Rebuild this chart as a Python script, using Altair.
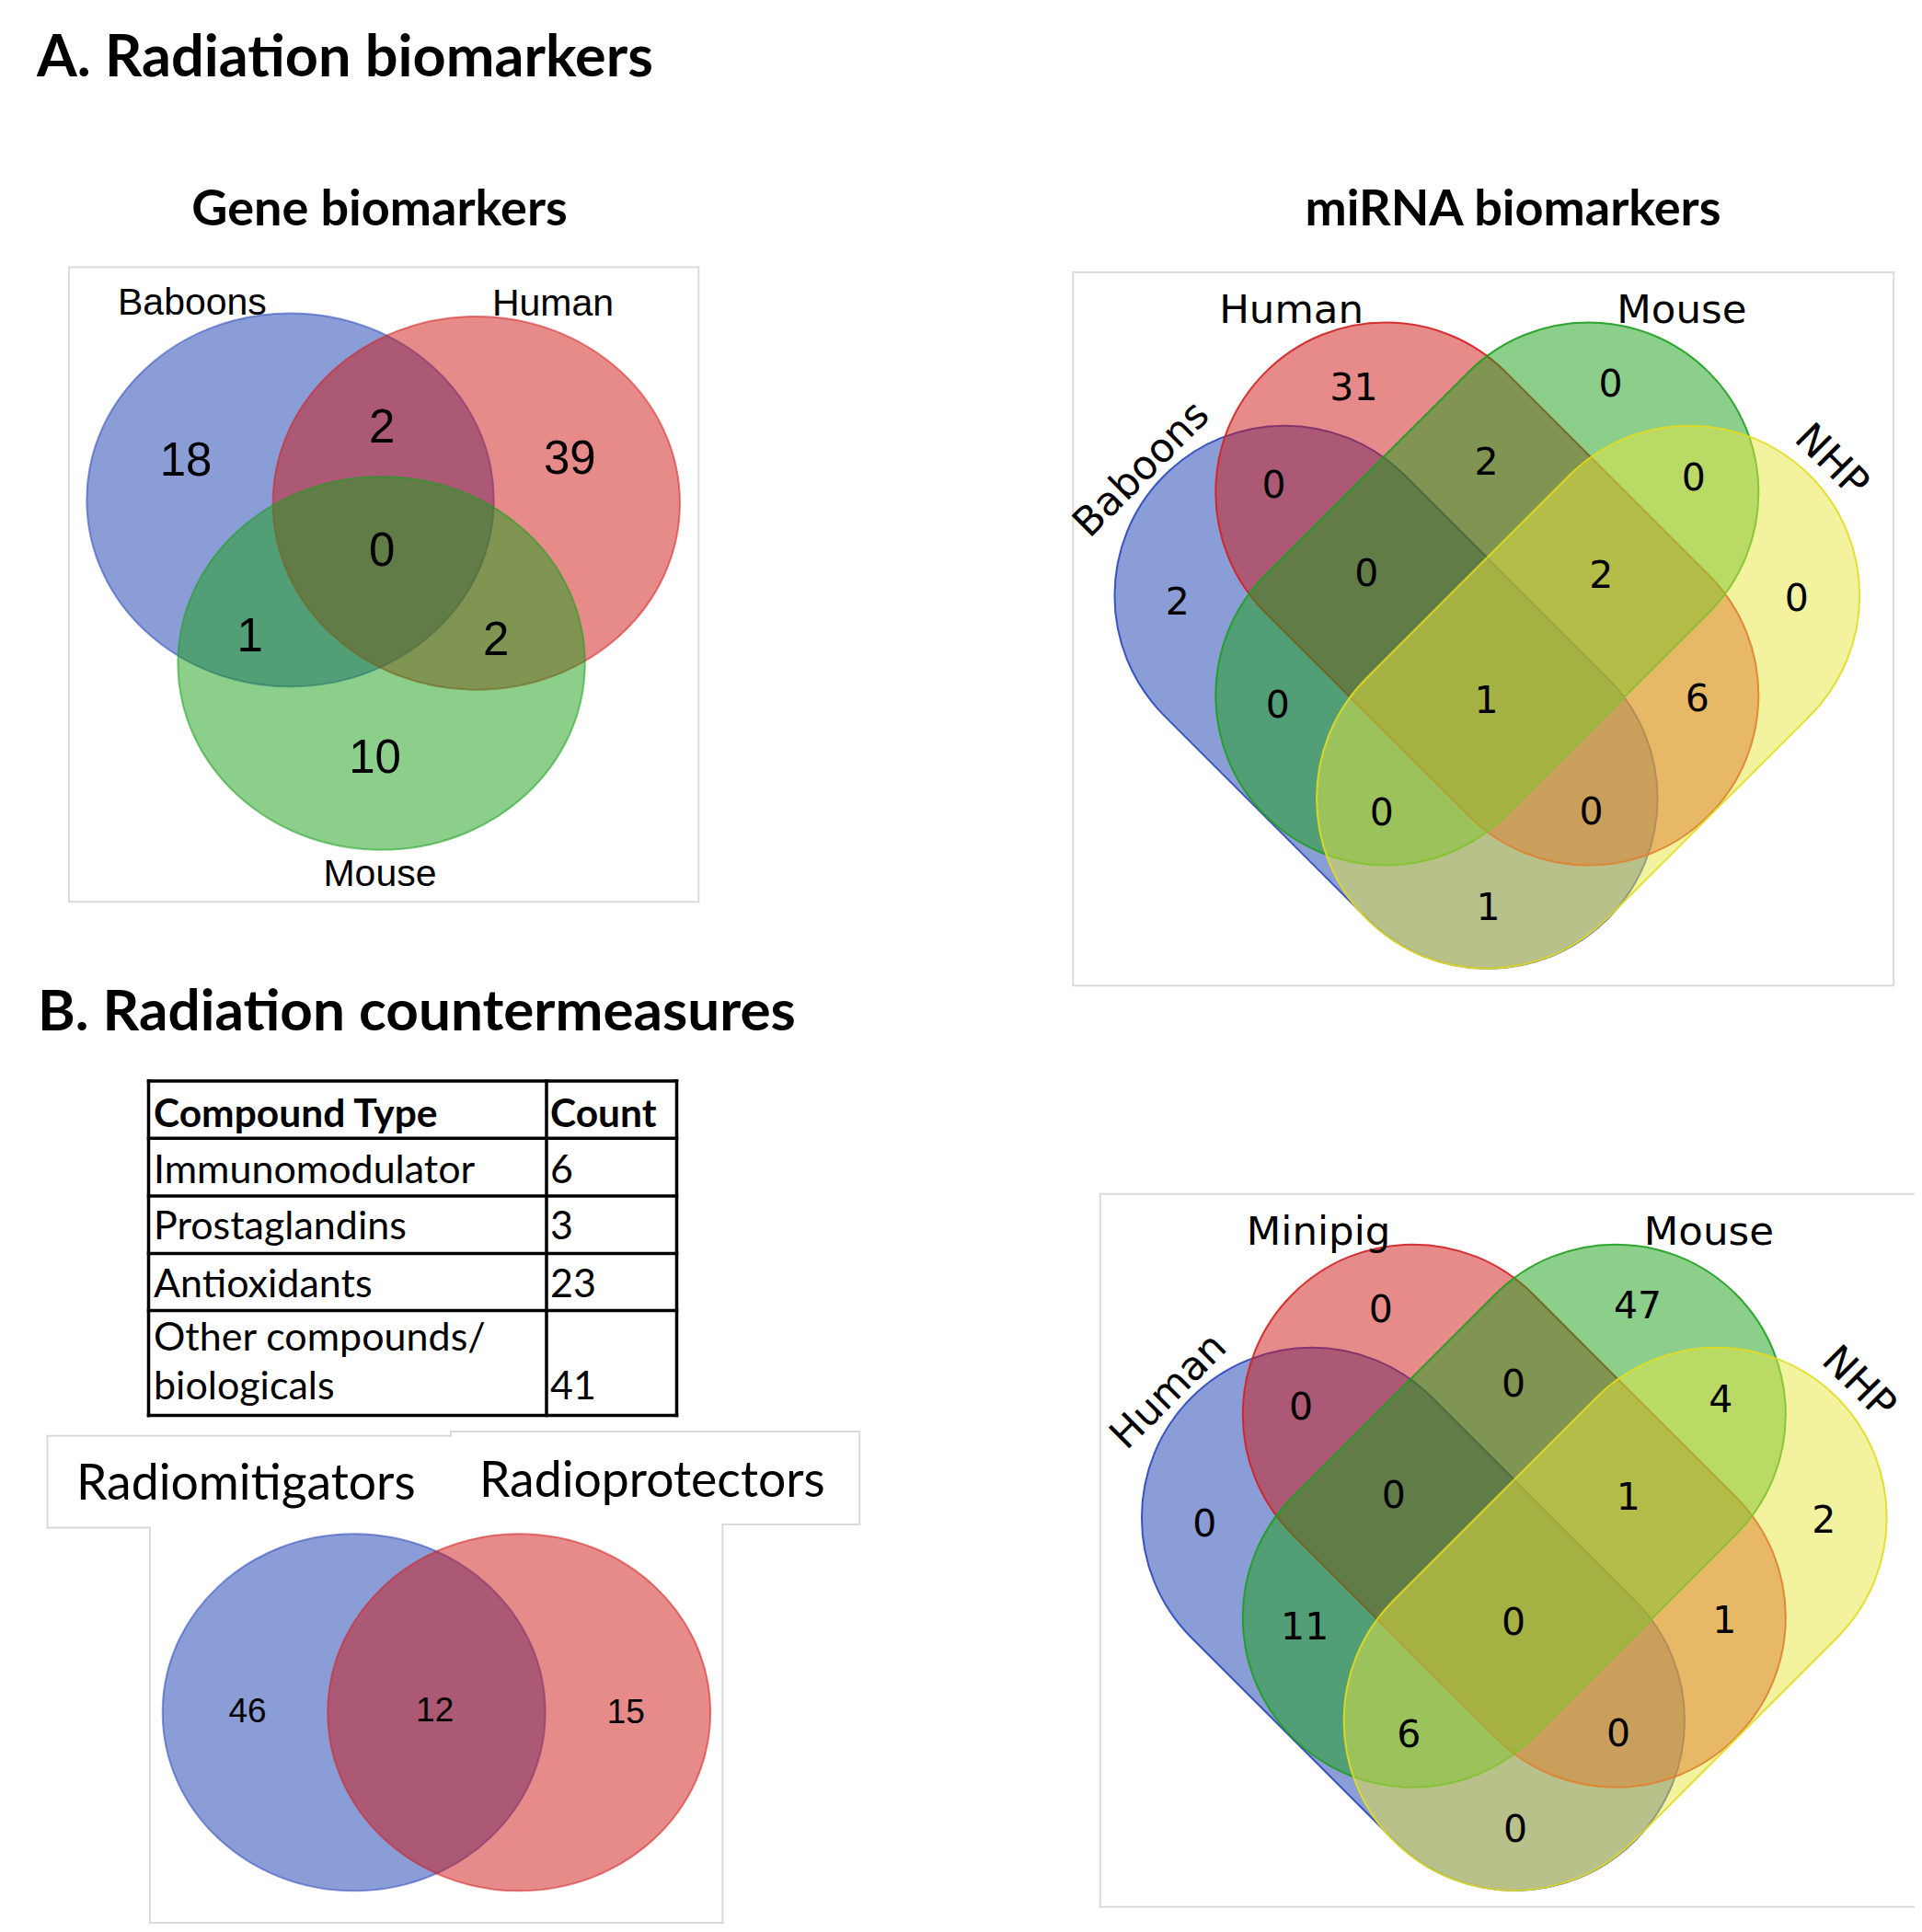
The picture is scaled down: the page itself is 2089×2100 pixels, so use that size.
import altair as alt
import pandas as pd

# ================= values =================
TITLE_A = "A. Radiation biomarkers"
TITLE_B = "B. Radiation countermeasures"
PANEL_TITLES = ["Gene biomarkers", "miRNA biomarkers"]

GENE_SETS = ["Baboons", "Human", "Mouse"]                 # slots A, B, C
GENE_REGIONS = ["A", "B", "C", "AB", "AC", "BC", "ABC"]
GENE_COUNTS = [18, 39, 10, 2, 1, 2, 0]

QUAD_REGIONS = ["B", "C", "AB", "BC", "CD", "A", "ABC", "BCD", "D",
                "AC", "ABCD", "BD", "ACD", "ABD", "AD"]
MIRNA_SETS = ["Baboons", "Human", "Mouse", "NHP"]          # slots A, B, C, D
MIRNA_COUNTS = [31, 0, 0, 2, 0, 2, 0, 2, 0, 0, 1, 6, 0, 0, 1]
CM_SETS = ["Human", "Minipig", "Mouse", "NHP"]             # slots A, B, C, D
CM_COUNTS = [0, 47, 0, 0, 4, 0, 0, 1, 2, 11, 0, 1, 6, 0, 0]

TABLE_HEADER = ["Compound Type", "Count"]
COMPOUND_TYPES = ["Immunomodulator", "Prostaglandins", "Antioxidants",
                  "Other compounds/\nbiologicals"]
COMPOUND_COUNTS = [6, 3, 23, 41]

PAIR_SETS = ["Radiomitigators", "Radioprotectors"]         # slots A, B
PAIR_REGIONS = ["A", "AB", "B"]
PAIR_COUNTS = [46, 12, 15]

# ================= layout (page pixels) =================
PAGE_W, PAGE_H, M = 2089, 2100, 8
W, H = PAGE_W - 2 * M, PAGE_H - 2 * M

SLOT_FILL = {"A": "#173BAD", "B": "#CD1515", "C": "#179F17", "D": "#E8E640"}
SLOT_STROKE = {"A": "#2A47BE", "B": "#D42020", "C": "#1E9E1E", "D": "#E2DC20"}
FRAME_COLOR = "#DADADA"

GENE_CENTERS = {"A": (315.5, 543.4), "B": (517.8, 546.8), "C": (414.6, 720.8)}
GENE_RADII = (221.2, 202.9)
GENE_LABEL_XY = {"A": (208.9, 327.3), "B": (601.0, 328.6), "C": (413.0, 948.1)}
GENE_REGION_XY = {"A": (202.1, 499.1), "B": (619.3, 496.8), "C": (407.5, 822.2),
                  "AB": (415.3, 462.4), "AC": (271.7, 689.4), "BC": (539.1, 693.8),
                  "ABC": (415.3, 596.3)}
GENE_FRAME = (75.0, 290.6, 759.3, 980.2)

QUAD_CENTERS = [(1616.3, 645.5), (1645.8, 1647.7)]
QUAD_SHAPES = {"A": (-109.8, 112.2, 45), "B": (0.0, 0.0, 45),
               "C": (0.0, 0.0, 135), "D": (109.8, 112.2, 135)}
CAPSULE_R, CAPSULE_D = 184.8, 155.9
QUAD_LABEL_XY = {"A": (-375.2, -137.8, 315), "B": (-212.7, -310.0, 0),
                 "C": (211.6, -310.7, 0), "D": (374.1, -146.9, 45)}
QUAD_REGION_XY = {"B": (-144.9, -225.0), "C": (134.3, -229.0), "AB": (-231.7, -119.3),
                  "BC": (-0.7, -144.2), "CD": (224.4, -127.1), "A": (-336.5, 8.0),
                  "ABC": (-131.0, -23.6), "BCD": (123.9, -21.6), "D": (336.5, 3.9),
                  "AC": (-227.6, 120.1), "ABCD": (-0.7, 114.4), "BD": (228.6, 112.5),
                  "ACD": (-114.4, 237.0), "ABD": (113.2, 235.8), "AD": (1.3, 339.9)}
QUAD_FRAMES = [(1166.3, 295.9, 2058.2, 1071.3), (1195.8, 1297.7, 2090.0, 2072.8)]

PAIR_CENTERS = {"A": (384.7, 1861.3), "B": (564.2, 1861.3)}
PAIR_RADII = (208.0, 194.0)
PAIR_REGION_XY = {"A": (269.0, 1858.9), "AB": (472.7, 1857.9), "B": (680.3, 1859.6)}
PAIR_LABEL_XY = {"A": (83.0, 1630.0), "B": (521.0, 1627.0)}
PAIR_BOX_SEGMENTS = [
    (51.6, 1560.7, 490.0, 1560.7), (51.6, 1560.7, 51.6, 1660.6), (51.6, 1660.6, 163.0, 1660.6),
    (163.0, 1660.6, 163.0, 2090.0), (785.4, 1657.1, 785.4, 2090.0), (163.0, 2090.0, 785.4, 2090.0),
    (490.0, 1556.0, 934.2, 1556.0), (490.0, 1556.0, 490.0, 1560.7),
    (934.2, 1556.0, 934.2, 1657.1), (785.4, 1657.1, 934.2, 1657.1),
]

TABLE_COLS = (161.5, 594.0, 735.5)
TABLE_ROWS = [1175.0, 1237.3, 1300.0, 1362.4, 1424.4, 1538.4]
TABLE_TEXT_X = (167.0, 598.0)
TABLE_HEADER_BASE = 1224.6
TABLE_ROW_BASE = [1285.9, 1347.0, 1410.2, 1467.6]
TABLE_LINE_GAP = 53.6

TITLE_POS = {"A": (40.0, 83.0, 63), "B": (41.0, 1120.0, 62)}
PANEL_TITLE_POS = [(412.5, 245.0), (1644.4, 245.0)]

XS = alt.Scale(domain=[M, PAGE_W - M], range=[0, W], nice=False, zero=False)
YS = alt.Scale(domain=[M, PAGE_H - M], range=[0, H], nice=False, zero=False)

K = 0.5523


def f(v):
    return f"{v:.4f}"


def ellipse_path(k):
    return (f"M1,0 C1,{f(k*K)} {f(K)},{f(k)} 0,{f(k)} "
            f"C{f(-K)},{f(k)} -1,{f(k*K)} -1,0 "
            f"C-1,{f(-k*K)} {f(-K)},{f(-k)} 0,{f(-k)} "
            f"C{f(K)},{f(-k)} 1,{f(-k*K)} 1,0 Z")


def capsule_path(a, b):
    kb = K * b
    return (f"M{f(-a)},{f(-b)} L{f(a)},{f(-b)} "
            f"C{f(a+kb)},{f(-b)} {f(a+b)},{f(-kb)} {f(a+b)},0 "
            f"C{f(a+b)},{f(kb)} {f(a+kb)},{f(b)} {f(a)},{f(b)} "
            f"L{f(-a)},{f(b)} "
            f"C{f(-a-kb)},{f(b)} {f(-a-b)},{f(kb)} {f(-a-b)},0 "
            f"C{f(-a-b)},{f(-kb)} {f(-a-kb)},{f(-b)} {f(-a)},{f(-b)} Z")


# ---------- shapes ----------
shape_rows = []
z = 0
rx, ry = GENE_RADII
for slot in ["A", "B", "C"]:
    cx, cy = GENE_CENTERS[slot]
    shape_rows.append(dict(x=cx, y=cy, path=ellipse_path(ry / rx), size=(2 * rx) ** 2, angle=0,
                           fill=SLOT_FILL[slot], stroke=SLOT_STROKE[slot], sop=0.55, z=z))
    z += 1
L = CAPSULE_R + CAPSULE_D
cap = capsule_path(CAPSULE_D / L, CAPSULE_R / L)
for (qx, qy) in QUAD_CENTERS:
    for slot in ["A", "B", "C", "D"]:
        dx, dy, ang = QUAD_SHAPES[slot]
        shape_rows.append(dict(x=qx + dx, y=qy + dy, path=cap, size=(2 * L) ** 2, angle=ang,
                               fill=SLOT_FILL[slot], stroke=SLOT_STROKE[slot], sop=0.9, z=z))
        z += 1
rx, ry = PAIR_RADII
for slot in ["A", "B"]:
    cx, cy = PAIR_CENTERS[slot]
    shape_rows.append(dict(x=cx, y=cy, path=ellipse_path(ry / rx), size=(2 * rx) ** 2, angle=0,
                           fill=SLOT_FILL[slot], stroke=SLOT_STROKE[slot], sop=0.55, z=z))
    z += 1
shapes_df = pd.DataFrame(shape_rows)

# ---------- rules (frames, boxes, table grid) ----------
rule_rows = []


def box(x0, y0, x1, y1, color, w):
    for seg in [(x0, y0, x1, y0), (x0, y1, x1, y1), (x0, y0, x0, y1), (x1, y0, x1, y1)]:
        rule_rows.append(dict(x=seg[0], y=seg[1], x2=seg[2], y2=seg[3], color=color, w=w))


box(*GENE_FRAME, FRAME_COLOR, 2)
for fr in QUAD_FRAMES:
    box(*fr, FRAME_COLOR, 2)
for seg in PAIR_BOX_SEGMENTS:
    rule_rows.append(dict(x=seg[0], y=seg[1], x2=seg[2], y2=seg[3], color=FRAME_COLOR, w=2))
frames_df = pd.DataFrame(rule_rows)

grid_rows = []
for yy in TABLE_ROWS:
    grid_rows.append(dict(x=TABLE_COLS[0], y=yy, x2=TABLE_COLS[2], y2=yy, color="black", w=3.5))
for xx in TABLE_COLS:
    grid_rows.append(dict(x=xx, y=TABLE_ROWS[0], x2=xx, y2=TABLE_ROWS[-1], color="black", w=3.5))
grid_df = pd.DataFrame(grid_rows)

# ---------- texts ----------
bold_left, bold_center, reg_left, sans_center, dv_center = [], [], [], [], []

for key, txt in [("A", TITLE_A), ("B", TITLE_B)]:
    x, y, s = TITLE_POS[key]
    bold_left.append(dict(x=x, y=y, text=txt, size=s, angle=0))
for (x, y), txt in zip(PANEL_TITLE_POS, PANEL_TITLES):
    bold_center.append(dict(x=x, y=y, text=txt, size=54, angle=0))

for x, txt in zip(TABLE_TEXT_X, TABLE_HEADER):
    bold_left.append(dict(x=x, y=TABLE_HEADER_BASE, text=txt, size=42.5, angle=0))
for base, t, c in zip(TABLE_ROW_BASE, COMPOUND_TYPES, COMPOUND_COUNTS):
    lines = t.split("\n")
    for i, ln in enumerate(lines):
        reg_left.append(dict(x=TABLE_TEXT_X[0], y=base + i * TABLE_LINE_GAP, text=ln, size=43, angle=0))
    reg_left.append(dict(x=TABLE_TEXT_X[1], y=base + (len(lines) - 1) * TABLE_LINE_GAP,
                         text=str(c), size=43, angle=0))
for slot, name in zip(["A", "B"], PAIR_SETS):
    x, y = PAIR_LABEL_XY[slot]
    reg_left.append(dict(x=x, y=y, text=name, size=53.5, angle=0))

# gene venn (Helvetica-like)
for slot, name in zip(["A", "B", "C"], GENE_SETS):
    x, y = GENE_LABEL_XY[slot]
    sans_center.append(dict(x=x, y=y + 0.358 * 41, text=name, size=41, angle=0))
for reg, cnt in zip(GENE_REGIONS, GENE_COUNTS):
    x, y = GENE_REGION_XY[reg]
    sans_center.append(dict(x=x, y=y + 0.358 * 51, text=str(cnt), size=51, angle=0))
for reg, cnt in zip(PAIR_REGIONS, PAIR_COUNTS):
    x, y = PAIR_REGION_XY[reg]
    sans_center.append(dict(x=x, y=y + 0.358 * 37, text=str(cnt), size=37, angle=0))

# four-set venns (DejaVu)
for (qx, qy), sets, counts in [(QUAD_CENTERS[0], MIRNA_SETS, MIRNA_COUNTS),
                               (QUAD_CENTERS[1], CM_SETS, CM_COUNTS)]:
    for slot, name in zip(["A", "B", "C", "D"], sets):
        dx, dy, ang = QUAD_LABEL_XY[slot]
        dv_center.append(dict(x=qx + dx, y=qy + dy + 0.065 * 43, text=name, size=43.5, angle=ang))
    for reg, cnt in zip(QUAD_REGIONS, counts):
        dx, dy = QUAD_REGION_XY[reg]
        dv_center.append(dict(x=qx + dx, y=qy + dy + 0.065 * 41, text=str(cnt), size=41, angle=0))


def pos():
    return dict(x=alt.X("x:Q", scale=XS, axis=None), y=alt.Y("y:Q", scale=YS, axis=None))


def rule_layer(df):
    return alt.Chart(df).mark_rule(strokeCap="square").encode(
        **pos(), x2="x2:Q", y2="y2:Q",
        color=alt.Color("color:N", scale=None),
        strokeWidth=alt.StrokeWidth("w:Q", scale=None))


def text_layer(rows, font, weight, align, baseline):
    return alt.Chart(pd.DataFrame(rows)).mark_text(
        font=font, fontWeight=weight, align=align, baseline=baseline, color="black"
    ).encode(**pos(), text="text:N",
             size=alt.Size("size:Q", scale=None),
             angle=alt.Angle("angle:Q", scale=None))


shape_layer = alt.Chart(shapes_df).mark_point(
    filled=True, opacity=1, fillOpacity=0.5, strokeWidth=2
).encode(
    **pos(),
    shape=alt.Shape("path:N", scale=None),
    size=alt.Size("size:Q", scale=None),
    angle=alt.Angle("angle:Q", scale=None),
    fill=alt.Fill("fill:N", scale=None),
    stroke=alt.Stroke("stroke:N", scale=None),
    strokeOpacity=alt.StrokeOpacity("sop:Q", scale=None),
    order=alt.Order("z:Q"),
)

chart = alt.layer(
    rule_layer(frames_df),
    shape_layer,
    rule_layer(grid_df),
    text_layer(bold_left, "Lato", "bold", "left", "alphabetic"),
    text_layer(bold_center, "Lato", "bold", "center", "alphabetic"),
    text_layer(reg_left, "Lato", "normal", "left", "alphabetic"),
    text_layer(sans_center, "Liberation Sans", "normal", "center", "alphabetic"),
    text_layer(dv_center, "DejaVu Sans", "normal", "center", "middle"),
).properties(
    width=W, height=H, padding=0, autosize=alt.AutoSizeParams(type="none"), background="white"
).configure_view(stroke=None)

chart.save("out.html", embed_options={"renderer": "svg", "actions": False})
